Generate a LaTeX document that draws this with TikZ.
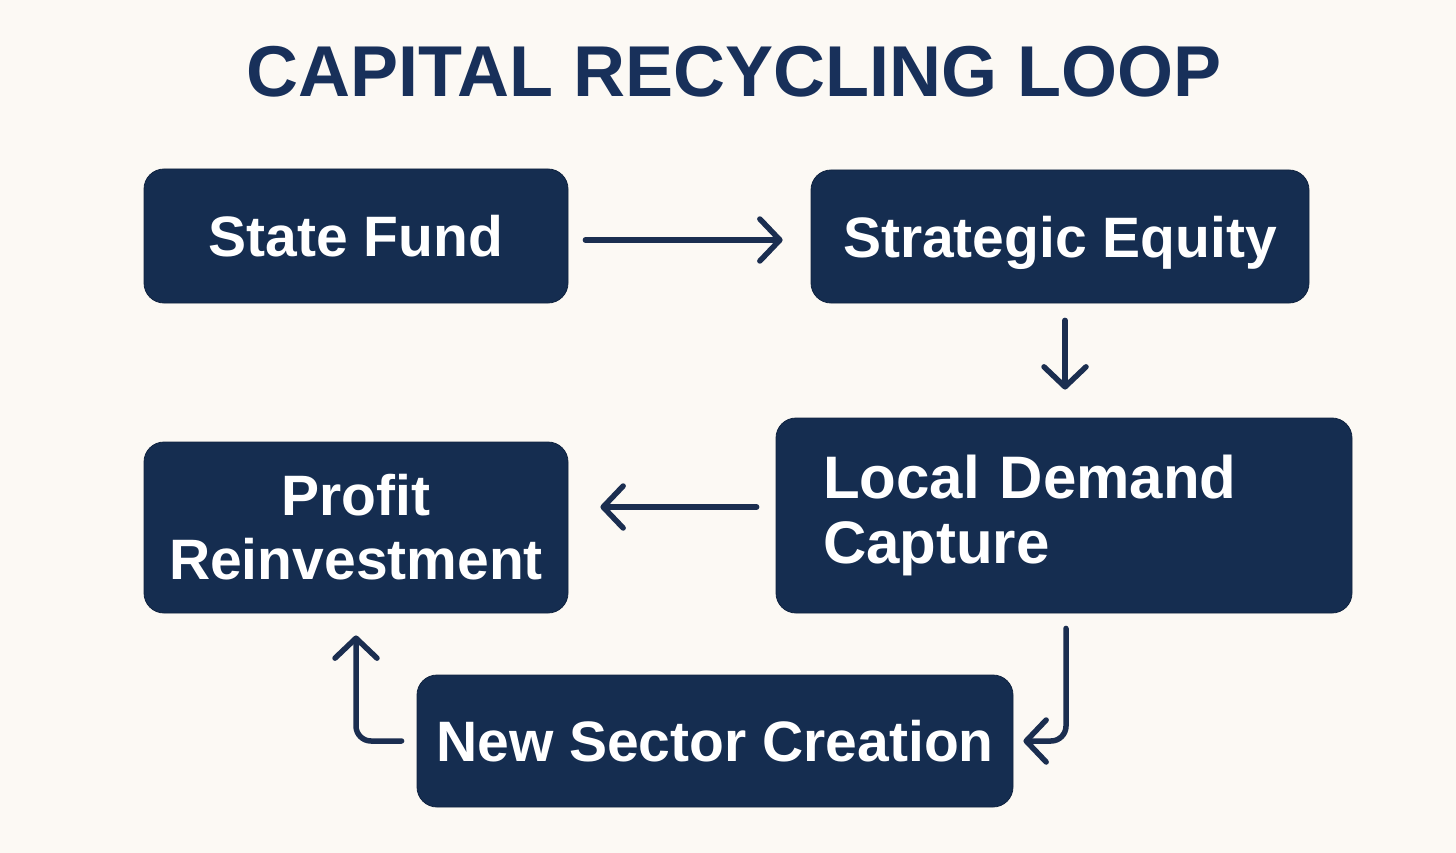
\documentclass[tikz,border=0pt]{standalone}
\usepackage{fontspec}
\setmainfont{Liberation Sans}
\usetikzlibrary{arrows.meta}
\definecolor{bg}{HTML}{FCF9F4}
\definecolor{navy}{HTML}{152D50}
\definecolor{titlec}{HTML}{18305A}
\definecolor{arrc}{HTML}{1B2E50}
\tikzset{
  box/.style={rectangle, rounded corners=20pt, fill=navy, draw=navy!80!black, line width=0.8pt,
    text=white, font=\fontsize{57}{64}\selectfont\bfseries, inner sep=0pt},
  oneline/.style={text height=41pt, text depth=0pt},
  arr/.style={draw=arrc, line width=5.5pt, line cap=round, line join=round,
    -{Straight Barb[round, length=20pt, width=42pt]}},
}
\begin{document}
\begin{tikzpicture}[x=1pt,y=-1pt]
\fill[bg] (0,0) rectangle (1456,853);
\useasboundingbox (0,0) rectangle (1456,853);
\node[text=titlec, font=\fontsize{72}{72}\selectfont\bfseries] (title) at (734,72) {CAPITAL RECYCLING LOOP};
\node[box, oneline, minimum width=424pt, minimum height=134pt] (state) at (356,236) {State Fund};
\node[box, oneline, minimum width=498pt, minimum height=133pt] (strat) at (1060,236.5) {Strategic Equity};
\node[box, text width=482pt, inner xsep=47pt, align=left, minimum height=195pt,
  font=\fontsize{60}{65}\selectfont\bfseries] (local) at (1064,515.5) {Local Demand\\Capture};
\node[box, minimum width=424pt, minimum height=171pt, align=center] (profit) at (356,527.5) {Profit\\Reinvestment};
\node[box, oneline, minimum width=596pt, minimum height=132pt] (new) at (715,741) {New Sector Creation};
\draw[arr] ([xshift=17pt,yshift=-4pt]state.east) -- ([xshift=-28pt,yshift=-3.5pt]strat.west);
\draw[arr] ([xshift=1pt,yshift=-17pt]strat.south -| local.north) -- ([xshift=1pt,yshift=28pt]local.north);
\draw[arr] ([xshift=-19pt,yshift=8.5pt]local.west) -- ([xshift=32pt,yshift=20.5pt]profit.east);
\draw[arr, rounded corners=15pt] ([xshift=2pt,yshift=-15pt]local.south) |- ([xshift=10pt]new.east);
\draw[arr, rounded corners=15pt] ([xshift=-15pt]new.west) -| ([yshift=-22pt]profit.south);
\end{tikzpicture}
\end{document}
